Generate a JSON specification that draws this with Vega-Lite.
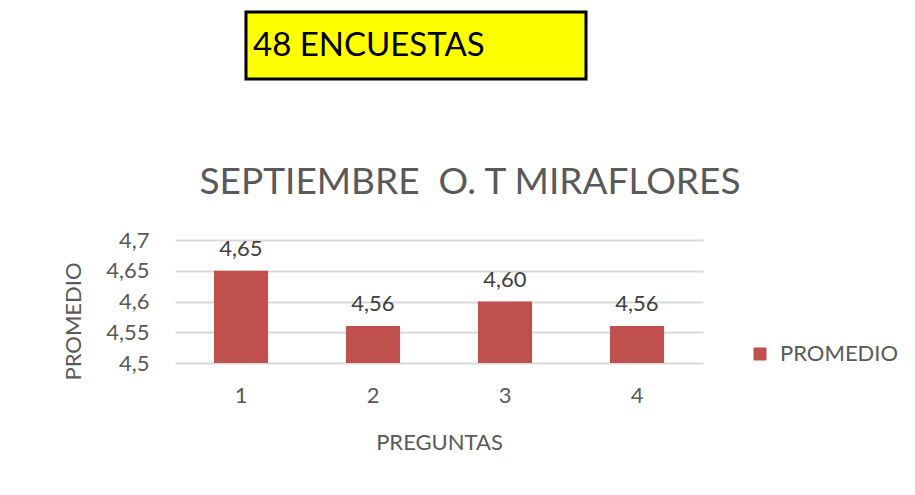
{
  "$schema": "https://vega.github.io/schema/vega-lite/v6.json",
  "background": "white",
  "padding": {"left": 62, "top": 10, "right": 0, "bottom": 0},
  "config": {
    "font": "Lato",
    "locale": {"number": {"decimal": ",", "thousands": ".", "grouping": [3], "currency": ["", " €"]}},
    "view": {"stroke": null},
    "legend": {"padding": 0}
  },
  "datasets": {
    "promedio": [
      {"pregunta": "1", "promedio": 4.65, "serie": "PROMEDIO"},
      {"pregunta": "2", "promedio": 4.56, "serie": "PROMEDIO"},
      {"pregunta": "3", "promedio": 4.60, "serie": "PROMEDIO"},
      {"pregunta": "4", "promedio": 4.56, "serie": "PROMEDIO"}
    ]
  },
  "spacing": 83,
  "vconcat": [
    {
      "spacing": 0,
      "hconcat": [
        {
          "width": 69,
          "height": 67,
          "data": {"values": [{}]},
          "mark": {"type": "text", "text": ""},
          "encoding": {},
          "view": {"fill": "#ffffff", "stroke": null}
        },
        {
          "width": 340,
          "height": 67,
          "data": {"values": [{"texto": "48 ENCUESTAS"}]},
          "mark": {"type": "text", "align": "left", "baseline": "middle", "fontSize": 33, "color": "#000000", "dx": 7},
          "encoding": {
            "text": {"field": "texto"},
            "x": {"datum": 0, "type": "quantitative", "scale": {"domain": [0, 1]}, "axis": null}
          },
          "view": {"fill": "#ffff00", "stroke": "#000000", "strokeWidth": 3}
        }
      ]
    },
    {
      "width": 528,
      "height": 123,
      "data": {"name": "promedio"},
      "title": {
        "text": "SEPTIEMBRE \u00a0O. T MIRAFLORES",
        "fontSize": 37,
        "fontWeight": "normal",
        "color": "#595959",
        "frame": "group",
        "anchor": "middle",
        "dx": 31,
        "offset": 27
      },
      "encoding": {
        "x": {
          "field": "pregunta",
          "type": "ordinal",
          "scale": {"paddingInner": 0.59, "paddingOuter": 0.295},
          "axis": {
            "title": "PREGUNTAS",
            "labelAngle": 0,
            "domain": false,
            "ticks": false,
            "tickSize": 0,
            "labelPadding": 22,
            "labelFontSize": 22,
            "labelColor": "#595959",
            "titleFontSize": 22,
            "titleColor": "#595959",
            "titleFontWeight": "normal",
            "titlePadding": 26
          }
        },
        "y": {
          "field": "promedio",
          "type": "quantitative",
          "scale": {"domain": [4.5, 4.7], "zero": false, "nice": false},
          "axis": {
            "title": "PROMEDIO",
            "values": [4.5, 4.55, 4.6, 4.65, 4.7],
            "format": ".2~f",
            "domain": false,
            "ticks": false,
            "tickSize": 0,
            "labelPadding": 26,
            "labelFontSize": 22,
            "labelColor": "#595959",
            "gridColor": "#d9d9d9",
            "gridWidth": 2,
            "titleFontSize": 22,
            "titleColor": "#595959",
            "titleFontWeight": "normal",
            "titlePadding": 20,
            "titleY": 81
          }
        }
      },
      "layer": [
        {
          "mark": {"type": "bar"},
          "encoding": {
            "y2": {"datum": 4.5},
            "color": {
              "field": "serie",
              "type": "nominal",
              "scale": {"range": ["#c0504d"]},
              "legend": {
                "title": null,
                "orient": "none",
                "legendX": 574,
                "legendY": 331,
                "symbolType": "square",
                "symbolSize": 169,
                "symbolStrokeWidth": 0,
                "labelFontSize": 22,
                "labelColor": "#595959",
                "labelOffset": 9
              }
            }
          }
        },
        {
          "mark": {"type": "text", "baseline": "alphabetic", "dy": -15, "fontSize": 22, "color": "#404040"},
          "encoding": {
            "text": {"field": "promedio", "type": "quantitative", "format": ".2f"}
          }
        }
      ]
    }
  ]
}
